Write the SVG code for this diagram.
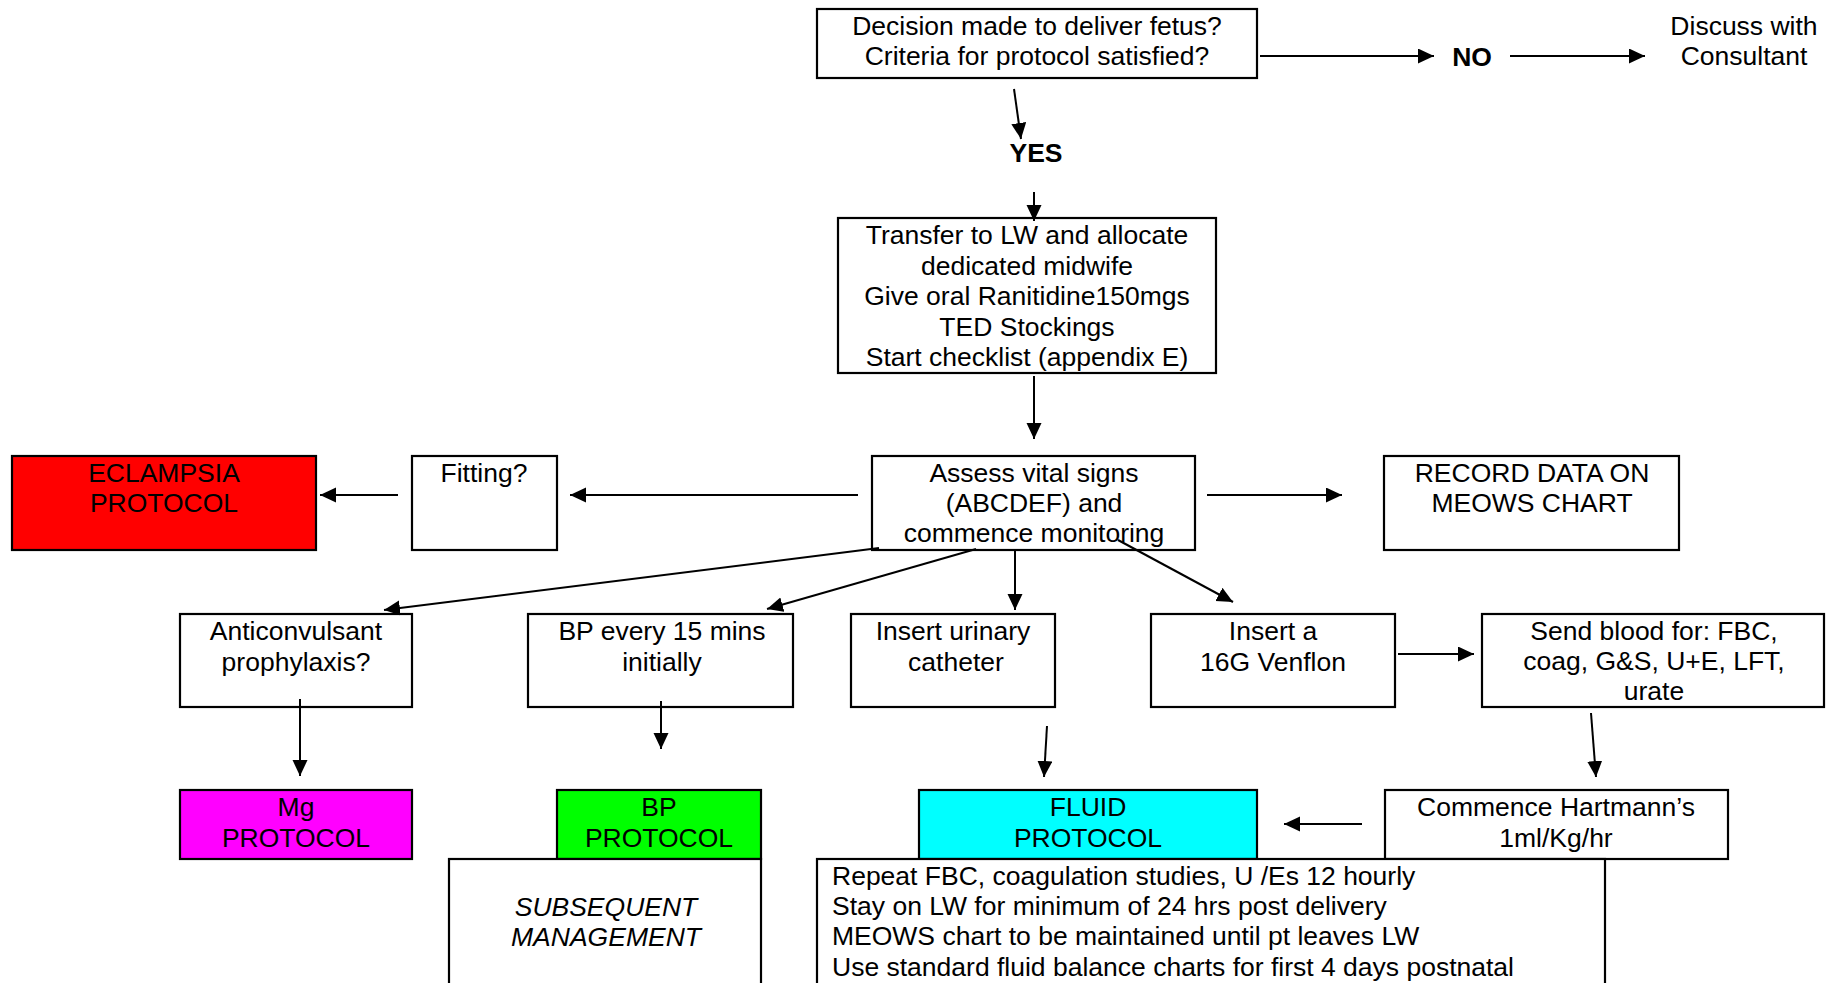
<svg xmlns="http://www.w3.org/2000/svg" width="1830" height="983" viewBox="0 0 1830 983">
<defs>
<marker id="ah" markerUnits="userSpaceOnUse" markerWidth="17" markerHeight="16" refX="16" refY="7.5" orient="auto">
<path d="M0,0 L16,7.5 L0,15 z" fill="#000"/>
</marker>
<style>
.box{fill:#fff;stroke:#000;stroke-width:2.2}
.t{font-family:"Liberation Sans",Arial,sans-serif;font-size:26.5px;fill:#000;text-anchor:middle}
.l{text-anchor:start}
.b{font-weight:bold}
.i{font-style:italic}
.c line{stroke:#000;stroke-width:2;marker-end:url(#ah)}
</style>
</defs>
<rect width="1830" height="983" fill="#fff"/>

<g id="decision">
<rect class="box" x="817" y="9" width="440" height="69"/>
<text class="t" x="1037" y="35">Decision made to deliver fetus?</text>
<text class="t" x="1037" y="65">Criteria for protocol satisfied?</text>
</g>
<g id="no"><text class="t b" x="1472" y="66">NO</text></g>
<g id="discuss">
<text class="t" x="1744" y="35">Discuss with</text>
<text class="t" x="1744" y="65">Consultant</text>
</g>
<g id="yes"><text class="t b" x="1036" y="162">YES</text></g>

<g id="transfer">
<rect class="box" x="838" y="218" width="378" height="155"/>
<text class="t" x="1027" y="244">Transfer to LW and allocate</text>
<text class="t" x="1027" y="274.5">dedicated midwife</text>
<text class="t" x="1027" y="305">Give oral Ranitidine150mgs</text>
<text class="t" x="1027" y="335.5">TED Stockings</text>
<text class="t" x="1027" y="366">Start checklist (appendix E)</text>
</g>

<g id="assess">
<rect class="box" x="872" y="456" width="323" height="94"/>
<text class="t" x="1034" y="482">Assess vital signs</text>
<text class="t" x="1034" y="512">(ABCDEF) and</text>
<text class="t" x="1034" y="542">commence monitoring</text>
</g>
<g id="fitting">
<rect class="box" x="412" y="456" width="145" height="94"/>
<text class="t" x="484" y="482">Fitting?</text>
</g>
<g id="eclampsia">
<rect class="box" x="12" y="456" width="304" height="94" style="fill:#ff0000"/>
<text class="t" x="164" y="482">ECLAMPSIA</text>
<text class="t" x="164" y="512">PROTOCOL</text>
</g>
<g id="record">
<rect class="box" x="1384" y="456" width="295" height="94"/>
<text class="t" x="1532" y="482">RECORD DATA ON</text>
<text class="t" x="1532" y="512">MEOWS CHART</text>
</g>

<g id="anticonvulsant">
<rect class="box" x="180" y="614" width="232" height="93"/>
<text class="t" x="296" y="640">Anticonvulsant</text>
<text class="t" x="296" y="671">prophylaxis?</text>
</g>
<g id="bp15">
<rect class="box" x="528" y="614" width="265" height="93"/>
<text class="t" x="662" y="640">BP every 15 mins</text>
<text class="t" x="662" y="671">initially</text>
</g>
<g id="urinary">
<rect class="box" x="851" y="614" width="204" height="93"/>
<text class="t" x="953" y="640">Insert urinary</text>
<text class="t" x="956" y="671">catheter</text>
</g>
<g id="venflon">
<rect class="box" x="1151" y="614" width="244" height="93"/>
<text class="t" x="1273" y="640">Insert a</text>
<text class="t" x="1273" y="671">16G Venflon</text>
</g>
<g id="blood">
<rect class="box" x="1482" y="614" width="342" height="93"/>
<text class="t" x="1654" y="640">Send blood for: FBC,</text>
<text class="t" x="1654" y="670">coag, G&amp;S, U+E, LFT,</text>
<text class="t" x="1654" y="700">urate</text>
</g>

<g id="mg">
<rect class="box" x="180" y="790" width="232" height="69" style="fill:#ff00ff"/>
<text class="t" x="296" y="816">Mg</text>
<text class="t" x="296" y="847">PROTOCOL</text>
</g>
<g id="bpprotocol">
<rect class="box" x="557" y="790" width="204" height="69" style="fill:#00ff00"/>
<text class="t" x="659" y="816">BP</text>
<text class="t" x="659" y="847">PROTOCOL</text>
</g>
<g id="subsequent">
<rect class="box" x="449" y="859" width="312" height="160"/>
<text class="t i" x="606" y="916">SUBSEQUENT</text>
<text class="t i" x="606" y="946">MANAGEMENT</text>
</g>
<g id="fluid">
<rect class="box" x="919" y="790" width="338" height="69" style="fill:#00ffff"/>
<text class="t" x="1088" y="816">FLUID</text>
<text class="t" x="1088" y="847">PROTOCOL</text>
</g>
<g id="hartmann">
<rect class="box" x="1385" y="790" width="343" height="69"/>
<text class="t" x="1556" y="816">Commence Hartmann’s</text>
<text class="t" x="1556" y="847">1ml/Kg/hr</text>
</g>
<g id="postdelivery">
<rect class="box" x="817" y="859" width="788" height="160"/>
<text class="t l" x="832" y="885">Repeat FBC, coagulation studies, U /Es 12 hourly</text>
<text class="t l" x="832" y="915">Stay on LW for minimum of 24 hrs post delivery</text>
<text class="t l" x="832" y="945">MEOWS chart to be maintained until pt leaves LW</text>
<text class="t l" x="832" y="976">Use standard fluid balance charts for first 4 days postnatal</text>
</g>

<g id="connectors" class="c">
<line x1="1260" y1="56" x2="1434" y2="56"/>
<line x1="1510" y1="56" x2="1645" y2="56"/>
<line x1="1014" y1="89" x2="1021" y2="139"/>
<line x1="1034" y1="192" x2="1034" y2="221"/>
<line x1="1034" y1="376" x2="1034" y2="439"/>
<line x1="858" y1="495" x2="570" y2="495"/>
<line x1="398" y1="495" x2="320" y2="495"/>
<line x1="1207" y1="495" x2="1342" y2="495"/>
<line x1="879" y1="548" x2="384" y2="610"/>
<line x1="976" y1="549" x2="767" y2="609"/>
<line x1="1015" y1="550" x2="1015" y2="610"/>
<line x1="1118" y1="540" x2="1233" y2="602"/>
<line x1="1398" y1="654" x2="1474" y2="654"/>
<line x1="300" y1="699" x2="300" y2="776"/>
<line x1="661" y1="701" x2="661" y2="749"/>
<line x1="1047" y1="726" x2="1044" y2="777"/>
<line x1="1591" y1="713" x2="1596" y2="777"/>
<line x1="1362" y1="824" x2="1284" y2="824"/>
</g>
</svg>
